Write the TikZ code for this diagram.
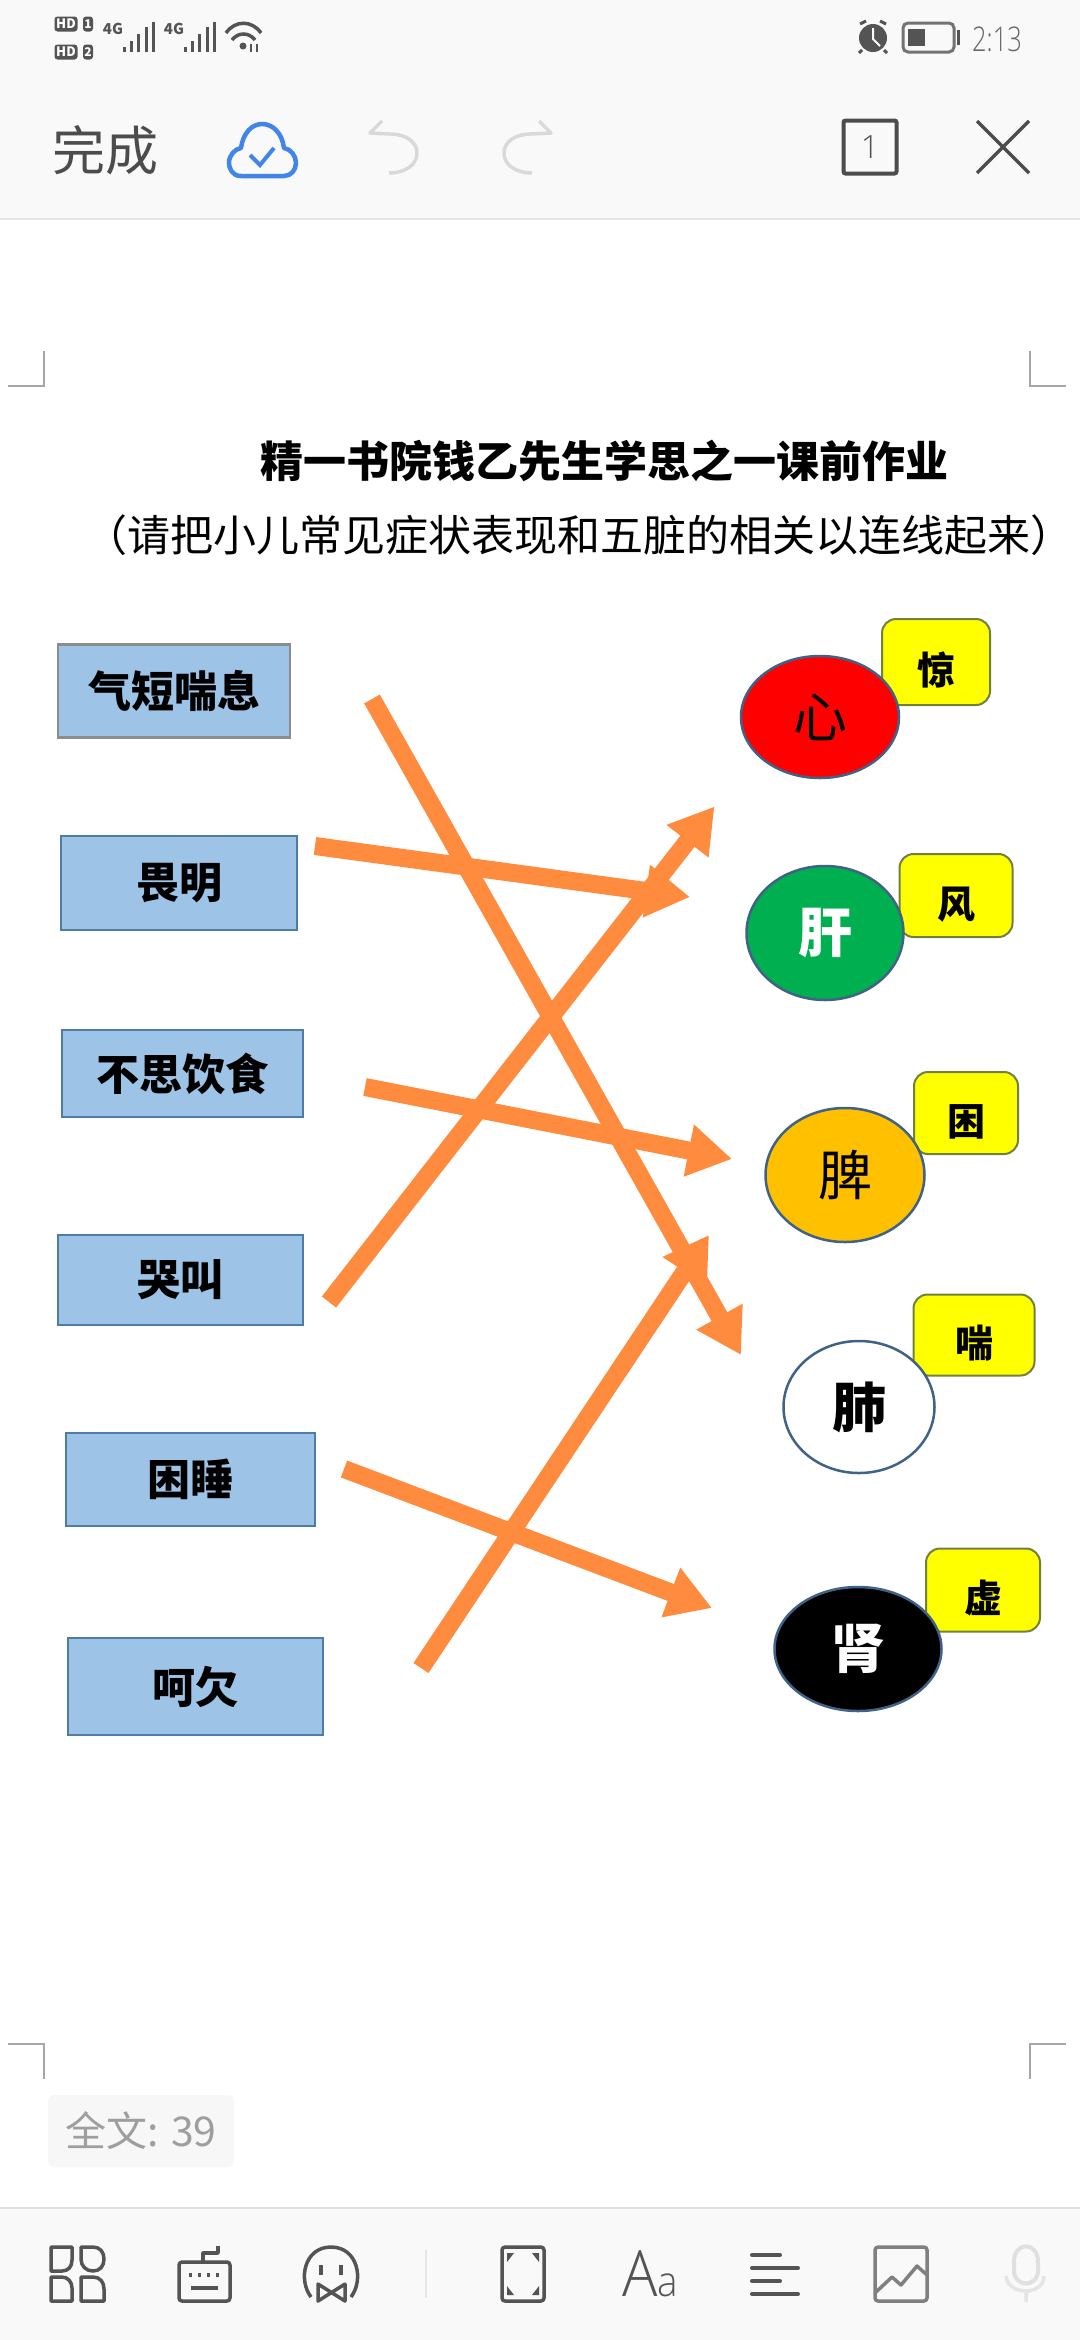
\documentclass[tikz,border=0pt]{standalone}
\usepackage{fontspec}
\setmainfont{Noto Sans CJK SC}
\newfontfamily\latinfont{Open Sans Light}
\newcommand{\schrift}[1]{\fontsize{#1pt}{#1pt}\selectfont}
\usetikzlibrary{shapes.geometric}
\usetikzlibrary{arrows.meta}

\begin{document}
\begin{tikzpicture}[x=1pt,y=-1pt]
\colorlet{balken}{black!2.5!white}
\colorlet{icon}{black!67!white}
\definecolor{orangepfeil}{HTML}{FF8C3E}
\definecolor{boxblau}{HTML}{9DC3E6}
\definecolor{rand}{HTML}{4F7BA7}
\definecolor{wolke}{HTML}{4285E8}
\definecolor{gelb}{HTML}{FFFF00}
\definecolor{rot}{HTML}{FF0000}
\definecolor{gruen}{HTML}{00B050}
\definecolor{gold}{HTML}{FFC000}
\tikzstyle{symptom}=[shape=rectangle,draw=rand,fill=boxblau,line width=2.5pt,inner sep=0pt,outer sep=0pt,font=\schrift{43}\bfseries]
\tikzstyle{organ}=[shape=ellipse,draw=rand!80!black,line width=2.5pt,inner sep=0pt,outer sep=0pt,font=\schrift{54}]
\tikzstyle{zeichen}=[shape=rectangle,rounded corners=14pt,draw=rand!55!gelb!70!black,fill=gelb,line width=2pt,inner sep=0pt,outer sep=0pt,text height=45pt,text depth=0pt,font=\schrift{38}\bfseries]
\tikzstyle{pf}=[-{Triangle[length=44pt,width=50pt]},line width=18pt,draw=orangepfeil]
\tikzstyle{ecke}=[draw=black!35!white,line width=2pt]
\tikzstyle{ico}=[draw=icon,line width=3.5pt,line join=round]
\tikzstyle{oben}=[draw=icon,line width=3pt]

\useasboundingbox (0,0) rectangle (1080,2340);
\fill[white] (0,0) rectangle (1080,2340);

% Kopfzeile und Fusszeile
\fill[balken] (0,0) rectangle (1080,218);
\draw[black!10!white,line width=2pt] (0,219) -- (1080,219);
\fill[balken] (0,2208) rectangle (1080,2340);
\draw[black!12!white,line width=2pt] (0,2208) -- (1080,2208);

% Statuszeile
\node[fill=icon,rounded corners=3pt,text=white,inner sep=1pt,minimum width=23pt,minimum height=15pt,font=\schrift{13}\bfseries] (hdA) at (66,24) {HD};
\node[fill=icon,rounded corners=3pt,text=white,inner sep=0pt,minimum width=10pt,minimum height=15pt,font=\schrift{12}\bfseries] (simA) at (88,24) {1};
\node[fill=icon,rounded corners=3pt,text=white,inner sep=1pt,minimum width=23pt,minimum height=15pt,font=\schrift{13}\bfseries] (hdB) at (66,52) {HD};
\node[fill=icon,rounded corners=3pt,text=white,inner sep=0pt,minimum width=10pt,minimum height=15pt,font=\schrift{12}\bfseries] (simB) at (88,52) {2};
\node[text=icon,inner sep=0pt,font=\schrift{15}\bfseries] (netzA) at (113,29) {4G};
\node[text=icon,inner sep=0pt,font=\schrift{15}\bfseries] (netzB) at (174,29) {4G};
\draw[oben] (124,52) -- (124,47) (131,52) -- (131,41) (138,52) -- (138,34) (146,52) -- (146,27) (153,52) -- (153,22);
\draw[oben] (185,52) -- (185,47) (192,52) -- (192,41) (199,52) -- (199,34) (207,52) -- (207,27) (214,52) -- (214,22);
\draw[oben,line width=3.5pt] (226,33) .. controls (235,20) and (252,20) .. (261,33);
\draw[oben,line width=3.5pt] (232,40) .. controls (238,32) and (249,32) .. (255,40);
\fill[icon] (243,46) circle (3.5pt);
\draw[oben,line width=2pt] (251,44) -- (251,52) (257,44) -- (257,52);
\fill[icon] (873,38) circle (14pt);
\draw[white,line width=2pt] (873,28) -- (873,39) -- (880,46);
\draw[oben] (860,24) -- (866,21) (886,24) -- (880,21) (862,50) -- (859,53) (884,50) -- (887,53);
\draw[oben,rounded corners=5pt,draw=black!55!white] (903,23) rectangle (954,52);
\fill[icon] (908,29) rectangle (925,46);
\draw[oben] (958,30) -- (958,45);
\node[text=black!60!white,inner sep=0pt,font=\latinfont\schrift{34}] (uhr) at (997,39) {\scalebox{0.75}[1]{2:13}};

% Werkzeugleiste oben
\node[text=black!70!white,inner sep=0pt,font=\schrift{53}] (fertig) at (105,150) {完成};
\draw[draw=wolke,line width=4.5pt,line join=round] (241,176) .. controls (232,176) and (229,168) .. (229,163) .. controls (229,155) and (235,149) .. (241,148) .. controls (243,133) and (252,124) .. (262,124) .. controls (273,124) and (282,133) .. (284,148) .. controls (291,149) and (296,156) .. (296,163) .. controls (296,170) and (291,176) .. (284,176) -- cycle;
\draw[draw=wolke,line width=4pt] (250,155) -- (260,165) -- (274,148);
\draw[draw=black!15!white,line width=3.5pt,line join=round] (382,121) -- (370,133) -- (390,134) .. controls (406,134) and (417,142) .. (417,153) .. controls (417,165) and (405,173) .. (389,173);
\draw[draw=black!15!white,line width=3.5pt,line join=round] (539,121) -- (551,133) -- (531,134) .. controls (515,134) and (504,142) .. (504,153) .. controls (504,165) and (516,173) .. (532,173);
\node[draw=black!70!white,rounded corners=2pt,line width=4pt,minimum width=53pt,minimum height=53pt,inner sep=0pt,text=black!70!white,font=\latinfont\schrift{32}] (seite) at (870,147) {1};
\draw[draw=black!70!white,line width=3.5pt] (977,121) -- (1029,173) (1029,121) -- (977,173);

% Eckmarken der Seite
\draw[ecke] (8,386) -- (44,386) -- (44,351);
\draw[ecke] (1066,386) -- (1030,386) -- (1030,351);
\draw[ecke] (8,2044) -- (44,2044) -- (44,2079);
\draw[ecke] (1066,2044) -- (1030,2044) -- (1030,2079);

% Ueberschrift
\node[inner sep=0pt,font=\schrift{43}\bfseries] (titel) at (604,461) {精一书院钱乙先生学思之一课前作业};
\node[inner sep=0pt,font=\schrift{43}] (aufgabe) at (578.5,535) {（请把小儿常见症状表现和五脏的相关以连线起来）};

% Symptome links
\node[symptom,draw=black!45!white,minimum width=232pt,minimum height=93pt] (qiduan) at (174,691) {气短喘息};
\node[symptom,minimum width=236pt,minimum height=94pt] (weiming) at (179,883) {畏明};
\node[symptom,minimum width=241pt,minimum height=87pt] (busi) at (182.5,1073.5) {不思饮食};
\node[symptom,minimum width=245pt,minimum height=90pt] (kujiao) at (180.5,1280) {哭叫};
\node[symptom,minimum width=249pt,minimum height=93pt] (kunshui) at (190.5,1479.5) {困睡};
\node[symptom,minimum width=255pt,minimum height=97pt] (hequ) at (195.5,1686.5) {呵欠};

% Zeichen rechts, liegen unter den Organen
\node[zeichen,minimum width=108pt,minimum height=86pt] (jing) at (936,662) {惊};
\node[zeichen,minimum width=113pt,minimum height=83pt] (feng) at (956,895.5) {风};
\node[zeichen,minimum width=104pt,minimum height=82pt] (kun) at (966,1113) {困};
\node[zeichen,minimum width=121pt,minimum height=81pt] (chuan) at (974,1335) {喘};
\node[zeichen,minimum width=114pt,minimum height=83pt] (xu) at (983,1590) {虚};

% Organe
\node[organ,fill=rot,minimum width=158pt,minimum height=122pt] (xin) at (820,717) {心};
\node[organ,fill=gruen,text=white,minimum width=157pt,minimum height=134pt,font=\schrift{54}\bfseries] (gan) at (825,933) {肝};
\node[organ,fill=gold,minimum width=159pt,minimum height=134pt] (pi) at (845,1175) {脾};
\node[organ,fill=white,minimum width=151pt,minimum height=132pt,font=\schrift{54}\bfseries] (fei) at (859,1407) {肺};
\node[organ,fill=black,text=white,minimum width=167pt,minimum height=124pt,font=\schrift{54}\bfseries] (shen) at (858,1649) {肾};

% Verbindungen
\draw[pf] ([shift={(82,8)}]qiduan.east) to ([shift={(-42.5,-52)}]fei.west);
\draw[pf] ([shift={(18,-37)}]weiming.east) to ([shift={(-56.5,-36)}]gan.west);
\draw[pf] ([shift={(62,13.5)}]busi.east) to ([shift={(-33.5,-16)}]pi.west);
\draw[pf] ([shift={(26,22)}]kujiao.east) to ([shift={(-26.5,89.5)}]xin.west);
\draw[pf] ([shift={(29,-10.5)}]kunshui.east) to ([shift={(-62.5,-41)}]shen.west);
\draw[pf] ([shift={(98,-18.5)}]hequ.east) to ([shift={(-74.5,-172)}]fei.west);

% Wortzahl
\node[fill=black!3!white,rounded corners=6pt,minimum width=186pt,minimum height=72pt,inner sep=0pt,text=black!38!white,font=\schrift{41}] (wortzahl) at (141,2131) {全文: 39};

% Werkzeugleiste unten
\draw[ico] (51,2247) -- (72,2247) -- (72,2260) .. controls (72,2267) and (68,2271) .. (62,2271) -- (51,2271) -- cycle;
\draw[ico] (81,2247) -- (93,2247) .. controls (100,2247) and (104,2252) .. (104,2259) .. controls (104,2266) and (100,2271) .. (93,2271) .. controls (86,2271) and (81,2266) .. (81,2259) -- cycle;
\draw[ico] (51,2277) -- (62,2277) .. controls (68,2277) and (72,2282) .. (72,2288) -- (72,2301) -- (51,2301) -- cycle;
\draw[ico] (81,2277) -- (93,2277) .. controls (100,2277) and (104,2282) .. (104,2289) -- (104,2301) -- (81,2301) -- cycle;
\draw[ico,rounded corners=3pt] (179,2262) rectangle (230,2301);
\draw[ico] (203,2261) -- (203,2253) -- (218,2253) -- (218,2246);
\draw[ico,dash pattern=on 3pt off 6pt] (189,2275) -- (222,2275);
\draw[ico,line width=4pt] (191,2288) -- (218,2288);
\draw[ico] (311,2297) .. controls (298,2280) and (304,2247) .. (331,2247) .. controls (358,2247) and (364,2280) .. (351,2297);
\draw[ico] (321,2265) -- (321,2275) (341,2265) -- (341,2275);
\draw[ico] (318,2284) -- (345,2301) -- (345,2284) -- (318,2301) -- cycle;
\draw[black!10!white,line width=1.5pt] (426,2250) -- (426,2298);
\draw[ico,rounded corners=3pt] (502,2247) rectangle (544,2301);
\fill[icon] (507,2253) -- (514,2253) -- (507,2262) -- cycle (539,2253) -- (532,2253) -- (539,2262) -- cycle (507,2295) -- (514,2295) -- (507,2286) -- cycle (539,2295) -- (532,2295) -- (539,2286) -- cycle;
\node[text=icon,inner sep=0pt,font=\latinfont] (schriftart) at (650,2274) {\scalebox{0.92}[1]{\schrift{64}A\schrift{42}a}};
\draw[ico,line cap=round,line width=4pt] (752,2255) -- (780,2255) (752,2268) -- (798,2268) (752,2281) -- (780,2281) (752,2294) -- (798,2294);
\draw[ico,draw=black!50!white,rounded corners=3pt] (875,2247) rectangle (927,2301);
\draw[ico,draw=black!50!white] (876,2292) -- (892,2277) -- (901,2285) -- (917,2266) -- (927,2275);
\draw[draw=black!12!white,line width=4pt] (1014,2262) .. controls (1014,2241) and (1038,2241) .. (1038,2262) -- (1038,2270) .. controls (1038,2288) and (1014,2288) .. (1014,2270) -- cycle;
\draw[draw=black!10!white,line width=3.5pt] (1006,2276) .. controls (1008,2296) and (1044,2296) .. (1044,2276) (1026,2292) -- (1026,2302);
\end{tikzpicture}
\end{document}
